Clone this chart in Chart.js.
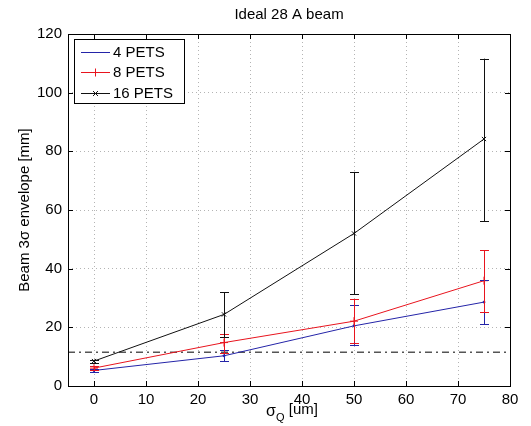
<!DOCTYPE html>
<html>
<head>
<meta charset="utf-8">
<script src="https://cdn.jsdelivr.net/npm/chart.js@4"></script>
<style>
  body { margin: 0; background: #fff; }
  canvas { display: block; }
</style>
</head>
<body>
<canvas id="beamChart" width="531" height="426"></canvas>
<script>
// values
const sigmaQ = [0, 25, 50, 75];
const xTicks = [0, 10, 20, 30, 40, 50, 60, 70, 80];

const pets4 = [5.3, 10.3, 20.5, 28.6];
const pets4Lo = [4.8, 8.4, 14.0, 21.1];
const pets4Hi = [5.8, 12.3, 27.6, 36.1];

const pets8 = [6.1, 14.8, 22.1, 35.9];
const pets8Lo = [5.4, 11.3, 14.8, 25.2];
const pets8Hi = [6.8, 17.8, 29.5, 46.3];

const pets16 = [8.5, 24.4, 52.0, 84.2];
const pets16Lo = [8.0, 16.7, 31.2, 56.2];
const pets16Hi = [9.0, 32.0, 73.0, 111.6];

const threshold = 11.5;

const FONT = 'Liberation Sans, Arial, Helvetica, sans-serif';

const series = [
  { label: '4 PETS', y: pets4, lo: pets4Lo, hi: pets4Hi, color: '#2424a8', marker: 'circle', r: 1 },
  { label: '8 PETS', y: pets8, lo: pets8Lo, hi: pets8Hi, color: '#e8141e', marker: 'cross', r: 4 },
  { label: '16 PETS', y: pets16, lo: pets16Lo, hi: pets16Hi, color: '#111111', marker: 'crossRot', r: 3 }
];

const datasets = series.map(s => ({
  label: s.label,
  data: sigmaQ.map((x, i) => ({ x: x, y: s.y[i] })),
  borderColor: s.color,
  backgroundColor: s.color,
  borderWidth: 1,
  pointStyle: s.marker,
  pointRadius: s.r,
  pointBorderWidth: 1,
  errLo: s.lo,
  errHi: s.hi
}));

datasets.push({
  label: 'threshold',
  data: [{ x: -5, y: threshold }, { x: 80, y: threshold }],
  borderColor: '#555555',
  borderWidth: 1.6,
  borderDash: [7, 4, 2, 4],
  pointRadius: 0
});

// error bars, box, inner ticks, axis titles and the legend
const matlabLook = {
  id: 'matlabLook',
  afterDatasetsDraw(chart) {
    const ctx = chart.ctx;
    const xs = chart.scales.x, ys = chart.scales.y;
    ctx.save();
    chart.data.datasets.forEach(ds => {
      if (!ds.errLo) return;
      ctx.strokeStyle = ds.borderColor;
      ctx.lineWidth = 1;
      ds.data.forEach((p, i) => {
        const px = Math.round(xs.getPixelForValue(p.x)) + 0.5;
        const top = ys.getPixelForValue(ds.errHi[i]);
        const bot = ys.getPixelForValue(ds.errLo[i]);
        ctx.beginPath();
        ctx.moveTo(px, top); ctx.lineTo(px, bot);
        ctx.moveTo(px - 4.5, Math.round(top) + 0.5); ctx.lineTo(px + 4.5, Math.round(top) + 0.5);
        ctx.moveTo(px - 4.5, Math.round(bot) + 0.5); ctx.lineTo(px + 4.5, Math.round(bot) + 0.5);
        ctx.stroke();
      });
    });
    ctx.restore();
  },
  afterDraw(chart) {
    const ctx = chart.ctx;
    const a = chart.chartArea;
    const xs = chart.scales.x, ys = chart.scales.y;
    ctx.save();
    ctx.strokeStyle = '#000';
    ctx.lineWidth = 1;
    // box
    ctx.strokeRect(Math.round(a.left) + 0.5, Math.round(a.top) + 0.5,
      Math.round(a.right - a.left), Math.round(a.bottom - a.top));
    // inward ticks
    ctx.beginPath();
    xs.ticks.forEach(t => {
      const px = Math.round(xs.getPixelForValue(t.value)) + 0.5;
      ctx.moveTo(px, a.bottom); ctx.lineTo(px, a.bottom - 5);
      ctx.moveTo(px, a.top); ctx.lineTo(px, a.top + 5);
    });
    ys.ticks.forEach(t => {
      const py = Math.round(ys.getPixelForValue(t.value)) + 0.5;
      ctx.moveTo(a.left, py); ctx.lineTo(a.left + 5, py);
      ctx.moveTo(a.right, py); ctx.lineTo(a.right - 5, py);
    });
    ctx.stroke();

    // title
    ctx.fillStyle = '#000';
    ctx.textAlign = 'center';
    ctx.textBaseline = 'middle';
    ctx.font = '15px ' + FONT;
    ctx.fillText('Ideal 28 A beam', (a.left + a.right) / 2, 15);

    // x axis title with subscript
    const cx = (a.left + a.right) / 2 + 3;
    ctx.textAlign = 'left';
    ctx.textBaseline = 'alphabetic';
    ctx.font = '16px ' + FONT;
    const wSig = ctx.measureText('σ').width;
    ctx.font = '11px ' + FONT;
    const wQ = ctx.measureText('Q').width;
    ctx.font = '15px ' + FONT;
    const wRest = ctx.measureText(' [um]').width;
    const x0 = cx - (wSig + wQ + wRest) / 2;
    ctx.font = '16px ' + FONT;
    ctx.fillText('σ', x0, 416);
    ctx.font = '11px ' + FONT;
    ctx.fillText('Q', x0 + wSig, 421);
    ctx.font = '15px ' + FONT;
    ctx.fillText(' [um]', x0 + wSig + wQ, 414);

    // y axis title
    ctx.save();
    ctx.translate(25, (a.top + a.bottom) / 2);
    ctx.rotate(-Math.PI / 2);
    ctx.textAlign = 'center';
    ctx.textBaseline = 'middle';
    ctx.font = '15px ' + FONT;
    ctx.fillText('Beam 3σ envelope [mm]', 0, 0);
    ctx.restore();

    // legend box
    const lx = 74, ly = 39, lw = 110, lh = 64;
    ctx.fillStyle = '#fff';
    ctx.fillRect(lx, ly, lw, lh);
    ctx.strokeRect(lx + 0.5, ly + 0.5, lw, lh);
    series.forEach((s, i) => {
      const rowY = ly + 12.5 + i * 20.5;
      ctx.strokeStyle = s.color;
      ctx.beginPath();
      ctx.moveTo(81, Math.round(rowY) + 0.5);
      ctx.lineTo(110, Math.round(rowY) + 0.5);
      ctx.stroke();
      const mx = 95.5, my = Math.round(rowY) + 0.5;
      ctx.beginPath();
      if (s.marker === 'cross') {
        ctx.moveTo(mx, my - 4); ctx.lineTo(mx, my + 4);
        ctx.moveTo(mx - 4, my); ctx.lineTo(mx + 4, my);
      } else if (s.marker === 'crossRot') {
        ctx.moveTo(mx - 2.5, my - 2.5); ctx.lineTo(mx + 2.5, my + 2.5);
        ctx.moveTo(mx - 2.5, my + 2.5); ctx.lineTo(mx + 2.5, my - 2.5);
      }
      ctx.stroke();
      ctx.fillStyle = '#000';
      ctx.textAlign = 'left';
      ctx.textBaseline = 'middle';
      ctx.font = '15px ' + FONT;
      ctx.fillText(s.label, 113, rowY + 1);
    });
    ctx.restore();
  }
};

new Chart(document.getElementById('beamChart'), {
  type: 'line',
  data: { datasets: datasets },
  options: {
    responsive: false,
    animation: false,
    devicePixelRatio: 1,
    layout: { padding: { top: 34, right: 21, left: 0, bottom: 0 } },
    plugins: {
      legend: { display: false },
      title: { display: false },
      tooltip: { enabled: false }
    },
    scales: {
      x: {
        type: 'linear',
        min: -5,
        max: 80,
        afterBuildTicks: s => { s.ticks = xTicks.map(v => ({ value: v })); },
        afterFit: s => { s.height = 40; },
        ticks: { color: '#000', font: { size: 15, family: FONT }, padding: 5, maxRotation: 0 },
        grid: { color: '#b4b4b4', drawTicks: false },
        border: { display: false, dash: [1, 3] }
      },
      y: {
        min: 0,
        max: 120,
        afterFit: s => { s.width = 68; },
        ticks: { stepSize: 20, color: '#000', font: { size: 15, family: FONT }, padding: 6 },
        grid: { color: '#b4b4b4', drawTicks: false },
        border: { display: false, dash: [1, 3] }
      }
    }
  },
  plugins: [matlabLook]
});
</script>
</body>
</html>
